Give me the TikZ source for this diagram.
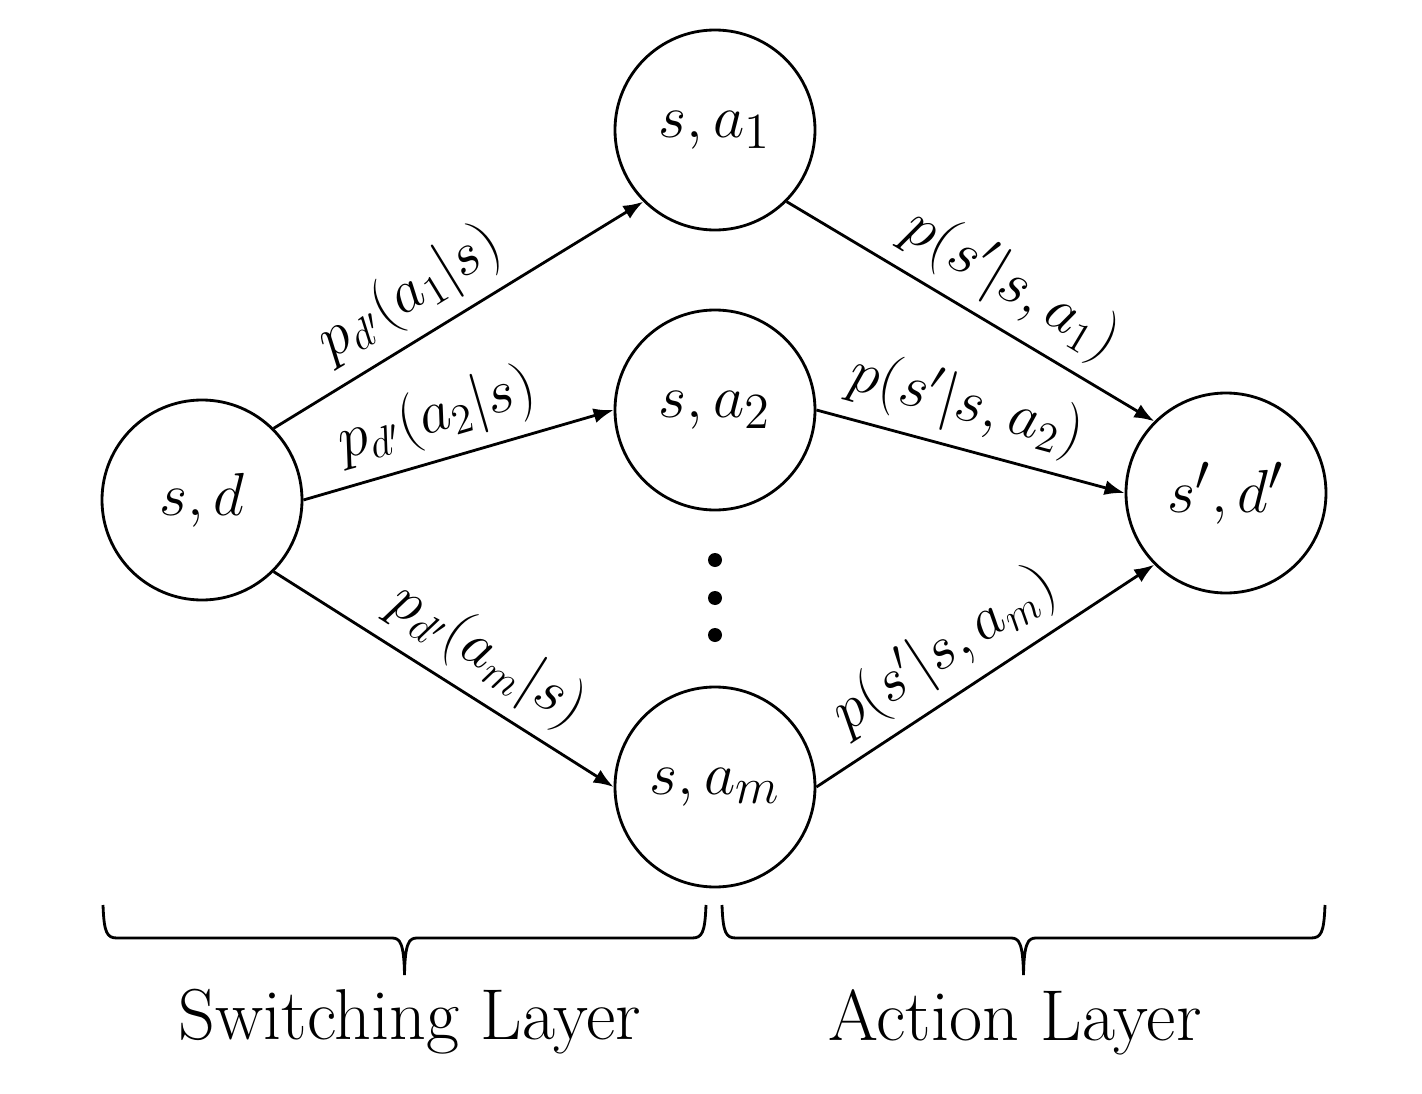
\documentclass[tikz,border=0pt]{standalone}
\usepackage{amsmath}
\usepackage{amssymb}
\usepackage{tikz}
\usetikzlibrary{arrows.meta,positioning}

\tikzset{
  statenode/.style={circle, draw, thick, minimum size=2cm, inner sep=0pt, font=\fontsize{19}{23}\selectfont},
  trans/.style={-{Latex[length=2mm,width=1.5mm]}, thick},
  prob/.style={sloped, above, font=\fontsize{17}{20}\selectfont},
  layer/.style={thick},
  layername/.style={font=\fontsize{20.5}{24}\selectfont}
}

\begin{document}
\begin{tikzpicture}
    \useasboundingbox (0,0) rectangle (14.22,-10.94);
    % States
    \node[statenode] (sd) at (2.02,-5.00) {$s,d$};
    \node[statenode] (sa1) at (7.15,-1.30) {$s,a_1$};
    \node[statenode] (sa2) at (7.15,-4.10) {$s,a_2$};
    \node[statenode] (sam) at (7.15,-7.87) {$s,a_m$};
    \node[statenode] (sdp) at (12.26,-4.93) {$s',d'$};

    % Dots between a_2 and a_m
    \foreach \y in {5.60,5.98,6.35}
        \fill (7.15,-\y) circle (0.07);

    % Switching layer
    \draw[trans] (sd.north east) -- node[prob, pos=0.43] {$p_{d'}(a_1|s)$} (sa1.south west);
    \draw[trans] (sd.east) -- node[prob, pos=0.47] {$p_{d'}(a_2|s)$} (sa2.west);
    \draw[trans] (sd.south east) -- node[prob, pos=0.56] {$p_{d'}(a_m|s)$} (sam.west);

    % Action layer
    \draw[trans] (sa1.south east) -- node[prob, pos=0.55] {$p(s'|s,a_1)$} (sdp.north west);
    \draw[trans] (sa2.east) -- node[prob, pos=0.45] {$p(s'|s,a_2)$} (sdp.west);
    \draw[trans] (sam.east) -- node[prob, pos=0.45] {$p(s'|s,a_m)$} (sdp.south west);

    % Braces
    \draw[layer] (1.03,-9.05) .. controls (1.04,-9.33) and (1.07,-9.38) .. (1.17,-9.38)
        -- (3.92,-9.38) .. controls (4.00,-9.38) and (4.04,-9.43) .. (4.045,-9.75)
        .. controls (4.05,-9.43) and (4.09,-9.38) .. (4.17,-9.38)
        -- (6.92,-9.38) .. controls (7.02,-9.38) and (7.05,-9.33) .. (7.06,-9.05);
    \draw[layer] (7.22,-9.05) .. controls (7.23,-9.33) and (7.26,-9.38) .. (7.36,-9.38)
        -- (10.11,-9.38) .. controls (10.19,-9.38) and (10.23,-9.43) .. (10.235,-9.75)
        .. controls (10.24,-9.43) and (10.28,-9.38) .. (10.36,-9.38)
        -- (13.11,-9.38) .. controls (13.21,-9.38) and (13.24,-9.33) .. (13.25,-9.05);
    \node[layername] (switch) at (4.10,-10.22) {Switching Layer};
    \node[layername] (action) at (10.15,-10.22) {Action Layer};
\end{tikzpicture}
\end{document}
